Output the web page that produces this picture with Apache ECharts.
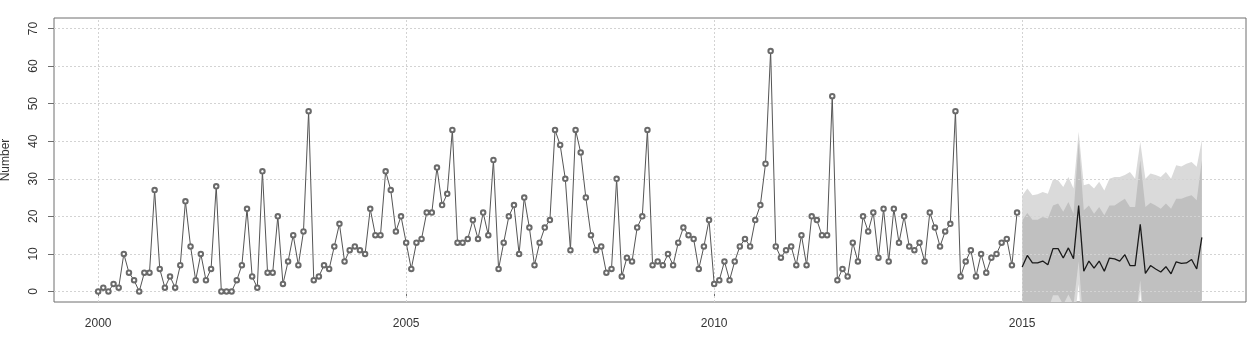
<!DOCTYPE html>
<html><head><meta charset="utf-8">
<script src="https://cdn.jsdelivr.net/npm/echarts@6/dist/echarts.min.js"></script>
<style>html,body{margin:0;padding:0;background:#fff}#c{width:1251px;height:341px}</style>
</head><body><div id="c"></div>
<script>
// ---- data ----
const startYear = 2000;           // first observation: Jan 2000, monthly
const observed = [
  0,1,0,2,1,10,5,3,0,5,5,27,
  6,1,4,1,7,24,12,3,10,3,6,28,
  0,0,0,3,7,22,4,1,32,5,5,20,
  2,8,15,7,16,48,3,4,7,6,12,18,
  8,11,12,11,10,22,15,15,32,27,16,20,
  13,6,13,14,21,21,33,23,26,43,13,13,
  14,19,14,21,15,35,6,13,20,23,10,25,
  17,7,13,17,19,43,39,30,11,43,37,25,
  15,11,12,5,6,30,4,9,8,17,20,43,
  7,8,7,10,7,13,17,15,14,6,12,19,
  2,3,8,3,8,12,14,12,19,23,34,64,
  12,9,11,12,7,15,7,20,19,15,15,52,
  3,6,4,13,8,20,16,21,9,22,8,22,
  13,20,12,11,13,8,21,17,12,16,18,48,
  4,8,11,4,10,5,9,10,13,14,7,21
];
const forecastStart = 2015;       // first forecast: Jan 2015, monthly
const fcMean = [
  6.5,9.6,7.6,7.6,8.1,7.1,11.4,11.4,8.9,11.6,8.7,22.9,
  5.4,8.1,6.2,8.1,5.4,8.9,8.7,8.1,9.8,6.9,6.9,17.9,
  4.8,6.9,6.0,5.2,6.6,4.7,7.9,7.5,7.6,8.5,6.0,14.4
];
const hi80 = [
  18.9,20.9,19.1,19.1,19.8,19.4,22.9,23.4,21.2,23.8,20.7,40.0,
  21.6,22.9,20.7,22.5,20.3,22.9,22.9,23.8,24.7,22.5,22.5,35.0,
  22.5,23.6,22.9,22.0,23.4,22.0,24.7,24.7,25.2,25.6,24.3,35.0
];
const lo80 = [
  -6,-3.5,-5,-5,-4.5,-5,-1,-1,-3.5,-0.8,-3.5,8,
  -10,-7,-9,-7,-10,-6,-6,-7,-5,-8,-8,3,
  -12,-10,-11,-12,-10,-12,-9,-9,-9,-8,-11,-2
];
const hi95 = [
  25.5,27.4,25.6,25.9,26.5,26.0,29.8,29.6,27.8,30.5,27.4,42.5,
  28.3,28.7,27.4,29.2,26.9,30.0,30.5,30.5,31.0,31.8,30.0,39.8,
  30.0,31.4,31.0,30.5,31.8,30.0,33.6,33.3,34.0,34.5,33.2,40.3
];
const lo95 = [
  -13,-10,-12,-12,-11,-12,-8,-8,-10,-8,-10,2,
  -18,-14,-16,-14,-17,-13,-13,-14,-12,-15,-15,0.5,
  -20,-18,-19,-20,-18,-20,-17,-17,-17,-16,-19,-8
];
const xTicks = [2000, 2005, 2010, 2015];
const yTicks = [0, 10, 20, 30, 40, 50, 60, 70];
const yTitle = 'Number';

// ---- build ----
const obsData = observed.map((v, i) => [startYear + i / 12, v]);
const fcT = fcMean.map((v, j) => forecastStart + j / 12);
const fcData = fcMean.map((v, j) => [fcT[j], v]);

function band(lo, hi, color, z) {
  const data = fcT.map((t, j) => [t, lo[j], hi[j]]);
  return {
    type: 'custom', data, clip: true, silent: true, z,
    encode: { x: 0, y: [1, 2] },
    renderItem: (params, api) => {
      if (params.dataIndex !== 0) return null;
      const up = data.map(d => api.coord([d[0], d[2]]));
      const dn = data.map(d => api.coord([d[0], d[1]])).reverse();
      return { type: 'polygon', shape: { points: up.concat(dn) }, style: { fill: color } };
    }
  };
}

const font = 'Liberation Sans, Arial, Helvetica, sans-serif';
const chart = echarts.init(document.getElementById('c'), null, { renderer: 'canvas' });
chart.setOption({
  animation: false,
  backgroundColor: '#fff',
  grid: { left: 54, right: 5, top: 18, bottom: 39, containLabel: false, outerBoundsMode: 'none',
    show: true, borderColor: '#6e6e6e', borderWidth: 1, backgroundColor: 'transparent' },
  xAxis: {
    type: 'value', min: 1999.2833, max: 2018.6333,
    axisLine: { show: false },
    splitLine: { show: false },
    axisTick: { show: true, customValues: xTicks, length: 6, lineStyle: { color: '#6e6e6e' } },
    axisLabel: { customValues: xTicks, margin: 16, color: '#333', fontSize: 12, fontFamily: font,
      formatter: v => String(Math.round(v)) }
  },
  yAxis: {
    type: 'value', min: -2.8, max: 72.8,
    name: yTitle, nameLocation: 'middle', nameGap: 42, nameRotate: 90,
    nameTextStyle: { color: '#333', fontSize: 12, fontFamily: font },
    axisLine: { show: false },
    splitLine: { show: false },
    axisTick: { show: true, customValues: yTicks, length: 6, lineStyle: { color: '#6e6e6e' } },
    axisLabel: { customValues: yTicks, rotate: 90, margin: 14, color: '#333', fontSize: 12, fontFamily: font,
      formatter: v => String(Math.round(v)) }
  },
  series: [
    band(lo95, hi95, '#dadada', 1),
    band(lo80, hi80, '#c0c0c0', 1.1),
    {
      type: 'line', data: obsData, silent: true, z: 2,
      showSymbol: false, lineStyle: { opacity: 0 },
      markLine: {
        silent: true, z: 2, symbol: ['none', 'none'], label: { show: false }, animation: false,
        lineStyle: { color: '#d3d3d3', type: [2, 2], width: 1 },
        emphasis: { disabled: true },
        data: yTicks.map(v => ({ yAxis: v })).concat(xTicks.map(v => ({ xAxis: v })))
      }
    },
    {
      type: 'line', data: obsData, z: 3, silent: true,
      symbol: 'emptyCircle', symbolSize: 4.5, showAllSymbol: true,
      lineStyle: { color: '#555', width: 1 },
      itemStyle: { color: '#6a6a6a', borderWidth: 0.8 }
    },
    {
      type: 'line', data: fcData, z: 4, silent: true,
      showSymbol: false, lineStyle: { color: '#1a1a1a', width: 1.3 }
    }
  ]
});
</script></body></html>
